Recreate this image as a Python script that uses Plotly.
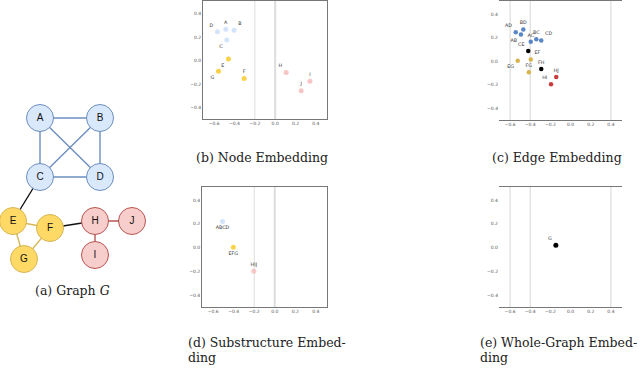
import plotly.graph_objects as go

W, H = 640, 369

# ---- (a) graph G : node layout (pixel units) ----
nodes = ["A", "B", "C", "D", "E", "F", "G", "H", "I", "J"]
node_x = [40, 100, 40, 100, 13, 50, 24, 95, 95, 132]
node_y = [118, 118, 177, 177, 221, 228, 259, 221, 255, 221]
node_group = ["blue", "blue", "blue", "blue", "yellow", "yellow", "yellow", "red", "red", "red"]
edges = [("A", "B"), ("A", "C"), ("A", "D"), ("B", "C"), ("B", "D"), ("C", "D"),
         ("C", "E"), ("E", "F"), ("E", "G"), ("F", "G"), ("F", "H"), ("H", "I"), ("H", "J")]

# ---- (b) node embedding ----
node_lbl = ["D", "A", "B", "C", "E", "G", "F", "H", "I", "J"]
node_ex = [-0.568, -0.486, -0.404, -0.476, -0.46, -0.558, -0.305, 0.108, 0.342, 0.256]
node_ey = [0.246, 0.269, 0.26, 0.176, 0.014, -0.092, -0.154, -0.103, -0.176, -0.258]
node_egrp = ["blue", "blue", "blue", "blue", "yellow", "yellow", "yellow", "red", "red", "red"]

# ---- (c) edge embedding ----
edge_lbl = ["AD", "BD", "AB", "AC", "BC", "CD", "CE", "EF", "EG", "FG", "FH", "HJ", "HI"]
edge_ex = [-0.544, -0.469, -0.492, -0.395, -0.34, -0.291, -0.42, -0.395, -0.524, -0.414, -0.291, -0.142, -0.194]
edge_ey = [0.244, 0.269, 0.225, 0.164, 0.186, 0.175, 0.086, 0.014, 0.003, -0.094, -0.067, -0.136, -0.197]
edge_egrp = ["blue"] * 6 + ["black", "yellow", "yellow", "yellow", "black", "red", "red"]

# ---- (d) substructure embedding ----
sub_lbl = ["ABCD", "EFG", "HIJ"]
sub_ex = [-0.51, -0.404, -0.204]
sub_ey = [0.22, 0.003, -0.2]
sub_egrp = ["blue", "yellow", "red"]

# ---- (e) whole graph embedding ----
whole_lbl = ["G"]
whole_ex = [-0.146]
whole_ey = [0.02]

ticks = [-0.6, -0.4, -0.2, 0.0, 0.2, 0.4]

# colours
node_fill = {"blue": "#dae8fc", "yellow": "#ffd966", "red": "#f8cecc"}
node_line = {"blue": "#6c8ebf", "yellow": "#d6b656", "red": "#b85450"}
light_pt = {"blue": "#d4e4fa", "yellow": "#fcd14a", "red": "#f5c6c5", "black": "#000000"}
dark_pt = {"blue": "#5b86c6", "yellow": "#d8b44c", "red": "#c83c3c", "black": "#000000"}


def px_dom(x0, x1, y0, y1):
    return [x0 / W, x1 / W], [1 - y1 / H, 1 - y0 / H]


fig = go.Figure()

# graph edges
idx = {n: i for i, n in enumerate(nodes)}
for a, b in edges:
    ga, gb = node_group[idx[a]], node_group[idx[b]]
    col = node_line[ga] if ga == gb else "#111111"
    fig.add_trace(go.Scatter(x=[node_x[idx[a]], node_x[idx[b]]], y=[node_y[idx[a]], node_y[idx[b]]],
                             mode="lines", line=dict(color=col, width=1.4),
                             xaxis="x", yaxis="y", showlegend=False, hoverinfo="skip"))
fig.add_trace(go.Scatter(x=node_x, y=node_y, mode="markers+text", text=nodes,
                         marker=dict(size=27, color=[node_fill[g] for g in node_group],
                                     line=dict(color=[node_line[g] for g in node_group], width=1)),
                         textfont=dict(family="Liberation Sans", size=10, color="#111"),
                         xaxis="x", yaxis="y", showlegend=False, cliponaxis=False))

# embedding panels: (axis suffix, xs, ys, labels, colours, text positions, marker size)
pos_b = ["top left", "top center", "top right", "bottom left", "bottom left", "bottom left",
         "top center", "top left", "top center", "top center"]
pos_c = ["top left", "top center", "bottom left", "top center", "top center", "top right",
         "top left", "top right", "bottom left", "top center", "top center", "top center", "top left"]
pos_d = ["bottom center", "bottom center", "top center"]
pos_e = ["top left"]

panels = [
    ("2", node_ex, node_ey, node_lbl, [light_pt[g] for g in node_egrp], pos_b, 5),
    ("3", edge_ex, edge_ey, edge_lbl, [dark_pt[g] for g in edge_egrp], pos_c, 4.5),
    ("4", sub_ex, sub_ey, sub_lbl, [light_pt[g] for g in sub_egrp], pos_d, 5),
    ("5", whole_ex, whole_ey, whole_lbl, ["#000000"], pos_e, 5),
]
for s, xs, ys, lb, cols, pos, ms in panels:
    fig.add_trace(go.Scatter(x=xs, y=ys, mode="markers+text", text=lb, textposition=pos,
                             marker=dict(size=ms, color=cols),
                             textfont=dict(family="DejaVu Sans", size=4.8, color="#333"),
                             xaxis="x" + s, yaxis="y" + s, showlegend=False, cliponaxis=False))

# light vertical reference lines
vlines = {"2": [(-0.2, 1), (0.0, 2)], "3": [(-0.6, 1.2), (-0.4, 1.2), (0.4, 1.2)],
          "4": [(-0.2, 1), (0.0, 2)], "5": [(-0.6, 1.2), (-0.4, 1.2), (0.4, 1.2)]}
shapes = []
for s, lst in vlines.items():
    for v, w in lst:
        shapes.append(dict(type="line", xref="x" + s, yref="y" + s + " domain", x0=v, x1=v, y0=0, y1=1,
                           line=dict(color="#dddddd", width=w), layer="below"))

tickfont = dict(family="DejaVu Sans", size=4.5, color="#555")
ax_common = dict(range=[-0.71, 0.51], tickvals=ticks, ticktext=["%.1f" % t if t >= 0 else "\u2212%.1f" % -t for t in ticks],
                 showgrid=False, zeroline=False, tickfont=tickfont, ticks="", showline=True, linecolor="#777",
                 linewidth=1, fixedrange=True)
ay_common = dict(range=[-0.5, 0.51], tickvals=ticks[1:], ticktext=["%.1f" % t if t >= 0 else "\u2212%.1f" % -t for t in ticks[1:]],
                 showgrid=False, zeroline=False, tickfont=tickfont, ticks="", linecolor="#777", linewidth=1,
                 fixedrange=True)

dx_b, dy_b = px_dom(203, 327, 1, 119)
dx_c, dy_c = px_dom(499, 622, 1, 120)
dx_d, dy_d = px_dom(202, 327, 187, 307)
dx_e, dy_e = px_dom(499, 622, 187, 307)
dx_a, dy_a = px_dom(0, 160, 90, 300)

layout = dict(
    width=W, height=H, margin=dict(l=0, r=0, t=0, b=0),
    paper_bgcolor="white", plot_bgcolor="white", showlegend=False,
    xaxis=dict(domain=dx_a, range=[0, 160], visible=False, fixedrange=True),
    yaxis=dict(domain=dy_a, range=[300, 90], visible=False, fixedrange=True),
    xaxis2=dict(domain=dx_b, anchor="y2", mirror=True, **ax_common),
    yaxis2=dict(domain=dy_b, anchor="x2", showline=True, mirror=True, **ay_common),
    xaxis3=dict(domain=dx_c, anchor="y3", mirror=True, **ax_common),
    yaxis3=dict(domain=dy_c, anchor="x3", showline=False, **ay_common),
    xaxis4=dict(domain=dx_d, anchor="y4", mirror=True, **ax_common),
    yaxis4=dict(domain=dy_d, anchor="x4", showline=True, mirror=True, **ay_common),
    xaxis5=dict(domain=dx_e, anchor="y5", mirror=True, **ax_common),
    yaxis5=dict(domain=dy_e, anchor="x5", showline=False, **ay_common),
    shapes=shapes,
)
fig.update_layout(**layout)

capfont = dict(family="DejaVu Serif", size=12.5, color="#222")
captions = [
    ("(a) Graph <i>G</i>", 72, 290, "center"),
    ("(b) Node Embedding", 262, 157, "center"),
    ("(c) Edge Embedding", 557, 157, "center"),
    ("(d) Substructure Embed-", 186, 342, "left"),
    ("ding", 186, 357, "left"),
    ("(e) Whole-Graph Embed-", 478, 342, "left"),
    ("ding", 478, 357, "left"),
]
for txt, cx, cy, al in captions:
    fig.add_annotation(text=txt, x=cx / W, y=1 - cy / H, xref="paper", yref="paper", showarrow=False,
                       xanchor=al, yanchor="middle", font=capfont)

# page body has a default 8px margin; drop it so the figure sits at the window corner
fig.write_html("out.html", config={"displayModeBar": False},
               post_script="document.body.style.margin='0';document.body.style.overflow='hidden';")
